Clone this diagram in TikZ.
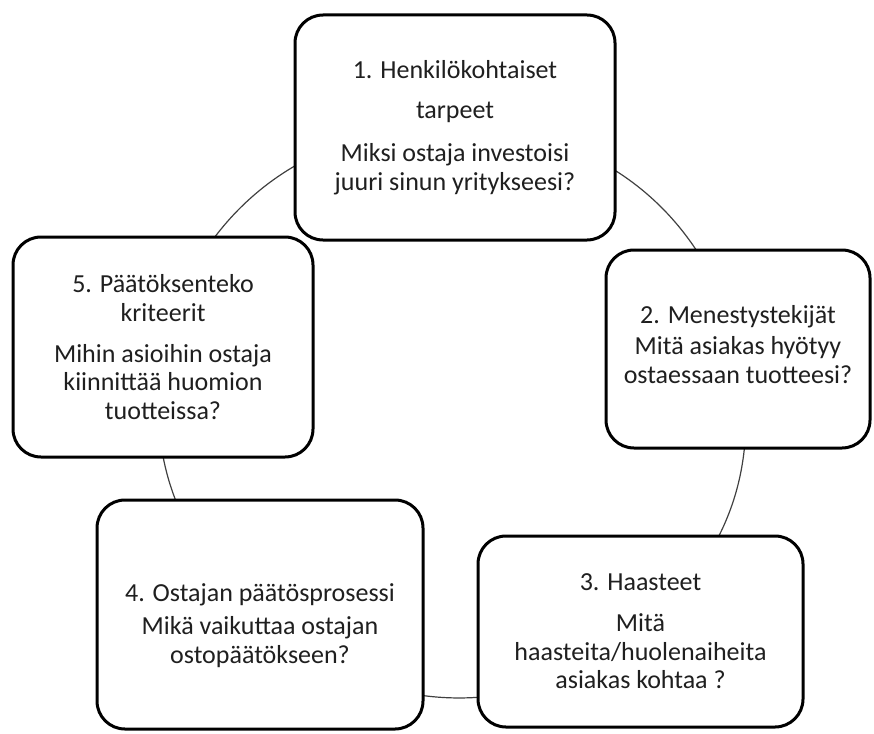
\documentclass[tikz,border=0pt]{standalone}
\usepackage{fontspec}
\setmainfont{Carlito}
\usepackage{xcolor}
\definecolor{harmaa}{rgb}{0.25,0.25,0.25}
\definecolor{teksti}{rgb}{0.12,0.12,0.12}
\usepackage{tikz}
\usetikzlibrary{positioning,backgrounds}
\tikzset{
  vaihe/.style={
  rectangle,rounded corners=28pt,draw=black,line width=3pt,fill=white,align=center,text=teksti,font=\fontsize{26}{28.5}\selectfont,inner sep=0pt
  },
  kaari/.style={draw=harmaa, line width=1.2pt},
}

\begin{document}
\begin{tikzpicture}[x=1pt,y=-1pt]
  \useasboundingbox (0,0) rectangle (874,733);
  \node[vaihe,minimum width=320pt,minimum height=225pt] (V1) at (455,127.5) {1. Henkilökohtaiset\\[11.5pt]tarpeet\\[14.5pt]Miksi ostaja investoisi\\juuri sinun yritykseesi?};
  \node[vaihe,minimum width=264pt,minimum height=198pt] (V2) at (738,349) {2. Menestystekijät\\[2.5pt]Mitä asiakas hyötyy\\ostaessaan tuotteesi?\rule[-9pt]{0pt}{1pt}};
  \node[vaihe,minimum width=325pt,minimum height=191pt] (V3) at (640.5,631.5) {3. Haasteet\\[12.5pt]Mitä\\haasteita/huolenaiheita\\asiakas kohtaa ?};
  \node[vaihe,minimum width=326pt,minimum height=229pt] (V4) at (260,614.5) {\rule{0pt}{40pt}4. Ostajan päätösprosessi\\[4.5pt]Mikä vaikuttaa ostajan\\ostopäätökseen?};
  \node[vaihe,minimum width=300pt,minimum height=220pt] (V5) at (163,347) {5. Päätöksenteko\\kriteerit\\[12.5pt]Mihin asioihin ostaja\\kiinnittää huomion\\tuotteissa?};
  \begin{scope}[on background layer]
  \path[kaari]
    (V1.center) edge[bend left=39] (V2.center)
    (V2.center) edge[bend left=31] (V3.center)
    (V3.center) edge[bend left=42] (V4.center)
    (V4.center) edge[bend left=29] (V5.center)
    (V5.center) edge[bend left=39] (V1.center);
  \end{scope}
\end{tikzpicture}
\end{document}
